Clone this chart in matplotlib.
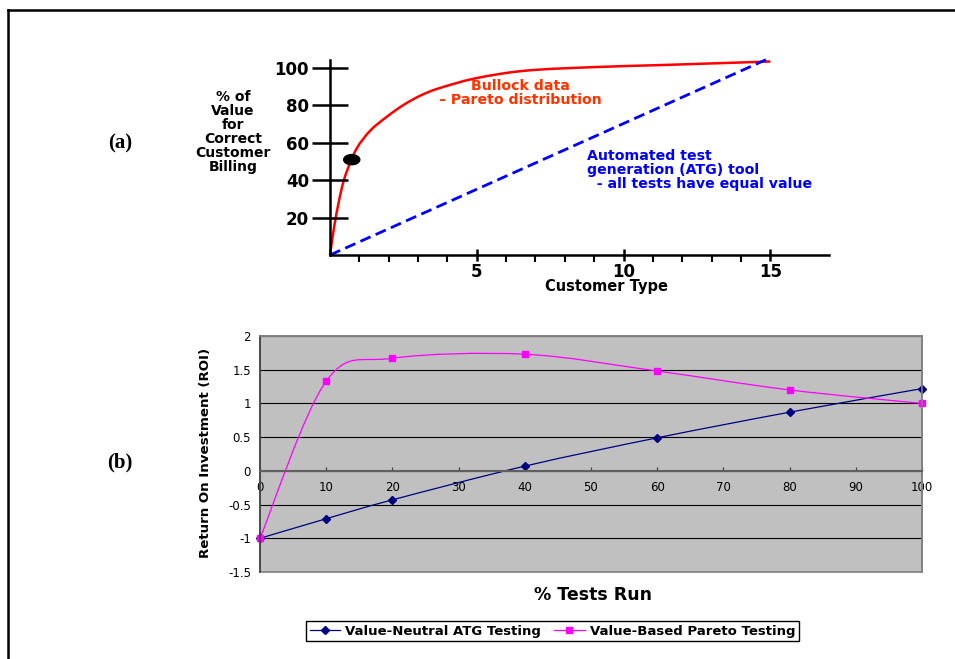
import matplotlib

matplotlib.use("Agg")
import matplotlib.pyplot as plt
import numpy as np
from matplotlib.lines import Line2D
from matplotlib.patches import Ellipse, PathPatch, Rectangle
from matplotlib.path import Path

# (a) value curves
PARETO_X = [0, 0.17, 0.40, 0.57, 0.91, 1.37, 1.94, 2.5, 3.07, 3.64,
            4.9, 6.6, 9.0, 11.3, 15]
PARETO_Y = [0, 17.8, 35.7, 44.6, 57, 66.5, 74, 80.2, 85.2, 88.8,
            94.3, 98.5, 100.5, 101.6, 103.5]
ATG_X = [0, 15]
ATG_Y = [0, 105.5]
DOT_X, DOT_Y = 0.74, 51
TOP_YTICKS = [20, 40, 60, 80, 100]
TOP_XTICKS = [5, 10, 15]
TOP_XMINOR = list(range(1, 15))

# (b) ROI vs % tests run
PCT_RUN = [0, 10, 20, 40, 60, 80, 100]
ROI_NEUTRAL = [-1.0, -0.71, -0.43, 0.07, 0.49, 0.87, 1.22]
ROI_PARETO = [-1.0, 1.33, 1.67, 1.73, 1.48, 1.20, 1.0]
ROI_XTICKS = list(range(0, 101, 10))
ROI_YTICKS = [-1.5, -1, -0.5, 0, 0.5, 1, 1.5, 2]

W, H = 955, 659


def smooth_path(x, y):
    """Excel-style smoothed line: cubic Bezier through every point."""
    pts = np.column_stack([x, y]).astype(float)
    n = len(pts)
    verts, codes = [pts[0]], [Path.MOVETO]
    for i in range(n - 1):
        p0, p1 = pts[max(i - 1, 0)], pts[i]
        p2, p3 = pts[i + 1], pts[min(i + 2, n - 1)]
        verts += [p1 + (p2 - p0) / 6, p2 - (p3 - p1) / 6, p2]
        codes += [Path.CURVE4] * 3
    return Path(verts, codes)


def chord_path(ax, x, y):
    """Smooth curve for unevenly spaced points, built in screen space."""
    pts = ax.transData.transform(np.column_stack([x, y]))
    n = len(pts)
    tang = []
    for i in range(n):
        d = pts[min(i + 1, n - 1)] - pts[max(i - 1, 0)]
        tang.append(d / np.hypot(*d))
    verts, codes = [pts[0]], [Path.MOVETO]
    for i in range(n - 1):
        seg = np.hypot(*(pts[i + 1] - pts[i])) / 3
        verts += [pts[i] + tang[i] * seg, pts[i + 1] - tang[i + 1] * seg,
                  pts[i + 1]]
        codes += [Path.CURVE4] * 3
    return Path(ax.transData.inverted().transform(verts), codes)


def fx(px):
    return px / W


def fy(py):
    return 1 - py / H


fig = plt.figure(figsize=(W / 100, H / 100), dpi=100)

# page frame (left and top only)
fig.add_artist(Line2D([fx(8), fx(8)], [0, fy(10)], color="black", lw=1.8))
fig.add_artist(Line2D([fx(8), 1], [fy(10), fy(10)], color="black", lw=1.8))

# ---- (a) ----
ax1 = fig.add_axes([fx(330), fy(255), (829 - 330) / W, (255 - 60) / H])
ax1.set_xlim(0, 17)
ax1.set_ylim(0, 104.3)
ax1.spines[["top", "right"]].set_visible(False)
ax1.spines[["left", "bottom"]].set_linewidth(1.8)

ax1.plot(ATG_X, ATG_Y, color="#0000FF", lw=2.0, dashes=(4, 2), clip_on=False)
ax1.add_patch(PathPatch(chord_path(ax1, PARETO_X, PARETO_Y), fill=False,
                        edgecolor="#FF0000", lw=1.8, clip_on=False))
ax1.add_patch(Ellipse((DOT_X, DOT_Y), 0.55, 5.4, color="black", zorder=5,
                      clip_on=False))

ax1.set_yticks(TOP_YTICKS, [str(v) for v in TOP_YTICKS])
ax1.set_xticks(TOP_XTICKS, [str(v) for v in TOP_XTICKS])
ax1.set_xticks(TOP_XMINOR, minor=True)
ax1.tick_params(axis="y", direction="inout", length=26, width=1.8, pad=2,
                labelsize=12)
ax1.tick_params(axis="x", which="major", direction="inout", length=8,
                width=1.8, pad=2, labelsize=12)
ax1.tick_params(axis="x", which="minor", direction="out", length=5, width=1.5)
for lbl in ax1.get_xticklabels() + ax1.get_yticklabels():
    lbl.set_fontweight("bold")

fig.text(fx(233), fy(132), "% of\nValue\nfor\nCorrect\nCustomer\nBilling",
         ha="center", va="center", fontsize=10, fontweight="bold",
         linespacing=1.0)
fig.text(fx(606), fy(287), "Customer Type", ha="center", va="center",
         fontsize=10.5, fontweight="bold")
fig.text(fx(520), fy(86), "Bullock data", ha="center", va="center",
         fontsize=10.2, fontweight="bold", color="#FF3300")
fig.text(fx(520), fy(100), "\u2013 Pareto distribution", ha="center",
         va="center", fontsize=10.2, fontweight="bold", color="#FF3300")
fig.text(fx(587), fy(170),
         "Automated test\ngeneration (ATG) tool\n  - all tests have equal value",
         ha="left", va="center", fontsize=10.2, fontweight="bold",
         color="#0000FF", linespacing=1.0)

# ---- (b) ----
ax2 = fig.add_axes([fx(260), fy(572), (922 - 260) / W, (572 - 336) / H])
ax2.set_facecolor("#C0C0C0")
ax2.set_xlim(0, 100)
ax2.set_ylim(-1.5, 2)
ax2.yaxis.grid(True, color="black", lw=0.8)
ax2.set_axisbelow(True)

for sp in ("top", "right", "left"):
    ax2.spines[sp].set_color("#808080")
    ax2.spines[sp].set_linewidth(1.2)
ax2.spines["left"].set_color("#404040")
ax2.spines["bottom"].set_position(("data", 0))
ax2.spines["bottom"].set_color("#606060")
ax2.spines["bottom"].set_linewidth(1.5)
ax2.add_patch(Rectangle((0, 0), 1, 1, transform=ax2.transAxes, fill=False,
                        edgecolor="#808080", lw=1.2, clip_on=False))

ax2.add_patch(PathPatch(smooth_path(PCT_RUN, ROI_NEUTRAL), fill=False,
                        edgecolor="#000080", lw=0.9))
ax2.plot(PCT_RUN, ROI_NEUTRAL, ls="none", marker="D", ms=4.5,
         color="#000080", clip_on=False)
ax2.add_patch(PathPatch(smooth_path(PCT_RUN, ROI_PARETO), fill=False,
                        edgecolor="#FF00FF", lw=0.9))
ax2.plot(PCT_RUN, ROI_PARETO, ls="none", marker="s", ms=5,
         color="#FF00FF", clip_on=False)

ax2.set_xticks(ROI_XTICKS, [str(v) for v in ROI_XTICKS])
ax2.set_yticks(ROI_YTICKS, [f"{v:g}" for v in ROI_YTICKS])
ax2.tick_params(axis="x", direction="in", length=3, width=0.9,
                color="#404040", pad=7.5, labelsize=8.5)
ax2.tick_params(axis="y", length=0, pad=6.5, labelsize=8.5)

fig.text(fx(205), fy(453), "Return On Investment (ROI)", rotation=90,
         ha="center", va="center", fontsize=9.6, fontweight="bold")
fig.text(fx(593), fy(595), "% Tests Run", ha="center", va="center",
         fontsize=12.5, fontweight="bold")

handles = [
    Line2D([], [], color="#000080", lw=0.9, marker="D", ms=4),
    Line2D([], [], color="#FF00FF", lw=0.9, marker="s", ms=4.5),
]
leg = fig.legend(handles, ["Value-Neutral ATG Testing",
                           "Value-Based Pareto Testing"],
                 loc="center", bbox_to_anchor=(fx(552.5), fy(631)), ncol=2,
                 fancybox=False, edgecolor="black", framealpha=1,
                 prop={"weight": "bold", "size": 9.5}, handlelength=2.3,
                 handletextpad=0.4, columnspacing=1.0, borderpad=0.3,
                 borderaxespad=0)
leg.get_frame().set_linewidth(1.0)

for label, py in (("(a)", 143), ("(b)", 462)):
    fig.text(fx(120), fy(py), label, ha="center", va="center",
             family="Liberation Serif", fontweight="bold", fontsize=15)

fig.savefig("out.png", dpi=100)
